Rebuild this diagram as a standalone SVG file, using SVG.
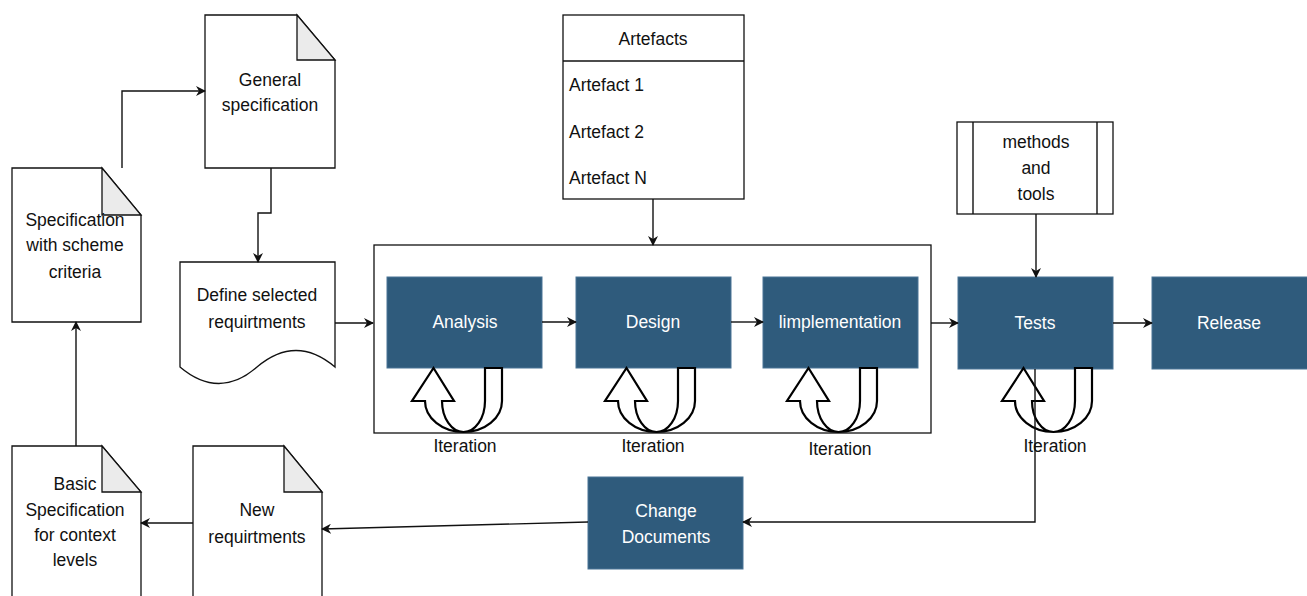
<svg xmlns="http://www.w3.org/2000/svg" width="1307" height="596" viewBox="0 0 1307 596">
  <style>
    text { font-family: "Liberation Sans", Arial, sans-serif; font-size: 17.5px; fill: #111; }
    .c { text-anchor: middle; }
    .w { fill: #ffffff; }
    .doc { fill: #ffffff; stroke: #111; stroke-width: 1.3; }
    .fold { fill: #ebebeb; stroke: #111; stroke-width: 1.3; }
    .box { fill: #ffffff; stroke: #111; stroke-width: 1.3; }
    .step { fill: #2f5b7c; stroke: #4a7596; stroke-width: 1; }
    .uturn { fill: #ffffff; stroke: #000; stroke-width: 2.2; stroke-linejoin: miter; }
    .edge { fill: none; stroke: #111; stroke-width: 1.4; }
  </style>
  <defs>
    <marker id="arrow" viewBox="0 0 10 10" refX="9" refY="5" markerWidth="10" markerHeight="10" markerUnits="userSpaceOnUse" orient="auto">
      <path d="M0,0 L10,5 L0,10 L3,5 Z" fill="#111"/>
    </marker>
    <!-- hollow U-turn arrow, left arm outer edge at x=0 -->
    <path id="uturn" d="M60,368 H77 V401 A38.5 31 0 0 1 0,401 H-13 L8.5,368 L29,401 H17 A21.5 31 0 0 0 60,401 Z"/>
  </defs>

  <!-- documents -->
  <g id="general-spec">
    <path class="doc" d="M205,15 H297 L335,60 V168 H205 Z"/>
    <path class="fold" d="M297,15 V60 H335 Z"/>
    <text class="c" x="270" y="86">General</text>
    <text class="c" x="270" y="111">specification</text>
  </g>
  <g id="spec-scheme">
    <path class="doc" d="M12,168 H102 L141,215 V322 H12 Z"/>
    <path class="fold" d="M102,168 V215 H141 Z"/>
    <text class="c" x="75" y="226">Specification</text>
    <text class="c" x="75" y="251">with scheme</text>
    <text class="c" x="75" y="278">criteria</text>
  </g>
  <g id="define-req">
    <path class="doc" d="M180,262 H335 V367 Q296,334 257,367 Q219,400 180,367 Z"/>
    <text class="c" x="257" y="301">Define selected</text>
    <text class="c" x="257" y="328">requirtments</text>
  </g>
  <g id="basic-spec">
    <path class="doc" d="M12,446 H102 L141,492 V600 H12 Z"/>
    <path class="fold" d="M102,446 V492 H141 Z"/>
    <text class="c" x="75" y="490">Basic</text>
    <text class="c" x="75" y="516">Specification</text>
    <text class="c" x="75" y="541">for context</text>
    <text class="c" x="75" y="566">levels</text>
  </g>
  <g id="new-req">
    <path class="doc" d="M193,446 H284 L322,492 V600 H193 Z"/>
    <path class="fold" d="M284,446 V492 H322 Z"/>
    <text class="c" x="257" y="516">New</text>
    <text class="c" x="257" y="543">requirtments</text>
  </g>

  <!-- artefacts list -->
  <g id="artefacts">
    <rect class="box" x="563" y="15" width="181" height="184"/>
    <line class="edge" x1="563" y1="61" x2="744" y2="61"/>
    <text class="c" x="653" y="45">Artefacts</text>
    <text x="569" y="91">Artefact 1</text>
    <text x="569" y="138">Artefact 2</text>
    <text x="569" y="184">Artefact N</text>
  </g>

  <!-- methods and tools -->
  <g id="methods">
    <rect class="box" x="957" y="122" width="156" height="92"/>
    <line class="edge" x1="973" y1="122" x2="973" y2="214"/>
    <line class="edge" x1="1097" y1="122" x2="1097" y2="214"/>
    <text class="c" x="1036" y="148">methods</text>
    <text class="c" x="1036" y="174">and</text>
    <text class="c" x="1036" y="200">tools</text>
  </g>

  <!-- iteration frame -->
  <g id="frame">
    <rect class="box" x="374" y="245" width="557" height="188"/>
  </g>

  <!-- process steps -->
  <g id="analysis">
    <rect class="step" x="387" y="277" width="155" height="91"/>
    <text class="c w" x="465" y="328">Analysis</text>
    <use href="#uturn" class="uturn" x="425"/>
    <text class="c" x="465" y="452">Iteration</text>
  </g>
  <g id="design">
    <rect class="step" x="576" y="277" width="155" height="91"/>
    <text class="c w" x="653" y="328">Design</text>
    <use href="#uturn" class="uturn" x="618"/>
    <text class="c" x="653" y="452">Iteration</text>
  </g>
  <g id="implementation">
    <rect class="step" x="763" y="277" width="155" height="91"/>
    <text class="c w" x="840" y="328">limplementation</text>
    <use href="#uturn" class="uturn" x="800"/>
    <text class="c" x="840" y="455">Iteration</text>
  </g>
  <g id="tests">
    <rect class="step" x="958" y="277" width="155" height="92"/>
    <text class="c w" x="1035" y="329">Tests</text>
    <use href="#uturn" class="uturn" x="1015"/>
    <text class="c" x="1055" y="452">Iteration</text>
  </g>
  <g id="release">
    <rect class="step" x="1152" y="277" width="160" height="92"/>
    <text class="c w" x="1229" y="329">Release</text>
  </g>
  <g id="change-docs">
    <rect class="step" x="588" y="477" width="155" height="92"/>
    <text class="c w" x="666" y="517">Change</text>
    <text class="c w" x="666" y="543">Documents</text>
  </g>

  <!-- connectors -->
  <g id="connectors" marker-end="url(#arrow)">
    <path class="edge" d="M122,168 V91 H205"/>
    <path class="edge" d="M271,168 V213 H258 V262"/>
    <path class="edge" d="M335,323 H373"/>
    <path class="edge" d="M653,199 V245"/>
    <path class="edge" d="M542,322 H576"/>
    <path class="edge" d="M731,322 H763"/>
    <path class="edge" d="M931,323 H958"/>
    <path class="edge" d="M1036,214 V277"/>
    <path class="edge" d="M1113,323 H1152"/>
    <path class="edge" d="M1035,369 V522 H743"/>
    <path class="edge" d="M588,522 L322,529"/>
    <path class="edge" d="M193,523 H141"/>
    <path class="edge" d="M76,446 V322"/>
  </g>
</svg>
